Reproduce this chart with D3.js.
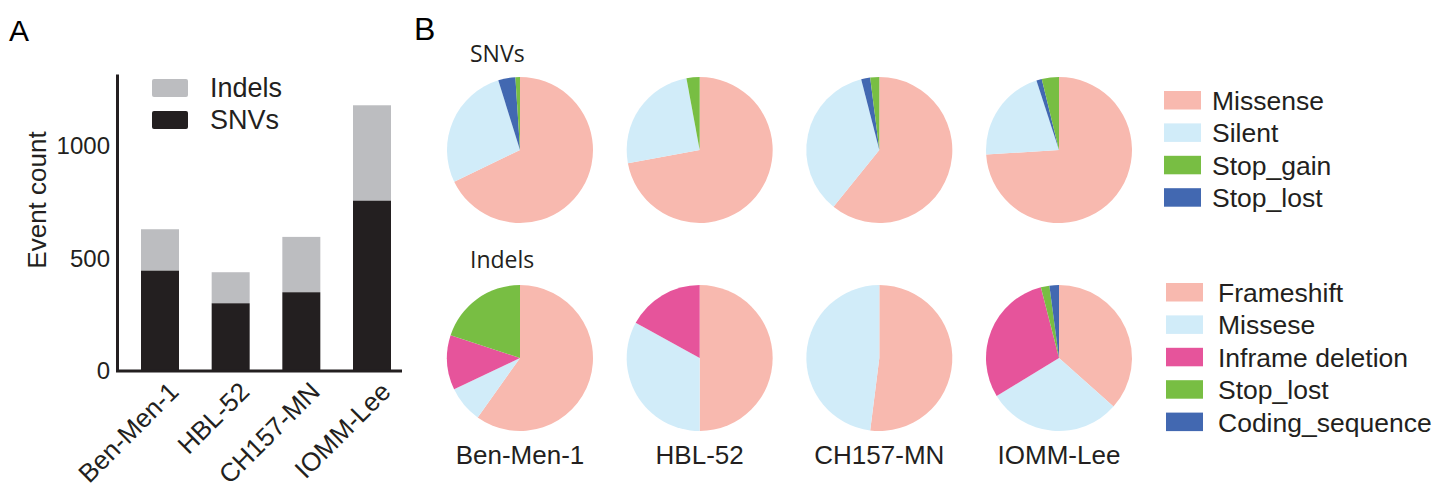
<!DOCTYPE html>
<html>
<head>
<meta charset="utf-8">
<script src="https://cdn.jsdelivr.net/npm/d3@7"></script>
<style>
  body { margin: 0; background: #fff; }
  svg { display: block; font-family: "Liberation Sans", Arial, sans-serif; }
</style>
</head>
<body>
<svg id="fig" width="1453" height="490"></svg>
<script>
// panel A: event counts per cell line
var cellLines = ["Ben-Men-1", "HBL-52", "CH157-MN", "IOMM-Lee"];
var snvCounts = [446, 301, 350, 757];
var indelCounts = [184, 138, 246, 424];
var yTicks = [0, 500, 1000];

// panel B: percentages, drawn clockwise from 12 o'clock
var snvMissense = [67.8, 72.1, 60.8, 74.0];
var snvSilent = [27.3, 25.0, 35.2, 21.0];
var snvStopLost = [3.8, 0, 2.0, 1.2];
var snvStopGain = [1.0, 2.9, 2.0, 3.8];

var indelFrameshift = [59.9, 50.0, 52.0, 36.6];
var indelMissese = [8.1, 33.0, 48.0, 29.7];
var indelInframe = [12.1, 17.0, 0, 29.7];
var indelStopLost = [20.0, 0, 0, 1.9];
var indelCoding = [0, 0, 0, 2.1];

var snvLegend = ["Missense", "Silent", "Stop_gain", "Stop_lost"];
var indelLegend = ["Frameshift", "Missese", "Inframe deletion", "Stop_lost", "Coding_sequence"];

var pink = "#f8b9af", sky = "#d1ecf9", green = "#78be43", blue = "#4268b1", magenta = "#e6549b";
var snvColors = {Missense: pink, Silent: sky, Stop_gain: green, Stop_lost: blue};
var indelColors = {"Frameshift": pink, "Missese": sky, "Inframe deletion": magenta, "Stop_lost": green, "Coding_sequence": blue};

var svg = d3.select("#fig");

// panel letters
svg.append("text").attr("x", 9).attr("y", 41).attr("font-size", 30).text("A");
svg.append("text").attr("x", 414).attr("y", 40).attr("font-size", 32).text("B");

// ---------- panel A ----------
var y = d3.scaleLinear().domain([0, 1320]).range([371, 74]);
var x = d3.scalePoint().domain(cellLines).range([160, 372]);
var barW = 38;

var stacked = cellLines.map(function(c, i) {
    return {name: c, snv: snvCounts[i], indel: indelCounts[i]};
});

var bars = svg.append("g");
bars.selectAll("rect.indel").data(stacked).enter().append("rect")
    .attr("class", "indel")
    .attr("x", function(d) { return x(d.name) - barW / 2; })
    .attr("width", barW)
    .attr("y", function(d) { return y(d.snv + d.indel); })
    .attr("height", function(d) { return y(d.snv) - y(d.snv + d.indel); })
    .attr("fill", "#bcbdc0");
bars.selectAll("rect.snv").data(stacked).enter().append("rect")
    .attr("class", "snv")
    .attr("x", function(d) { return x(d.name) - barW / 2; })
    .attr("width", barW)
    .attr("y", function(d) { return y(d.snv); })
    .attr("height", function(d) { return y(0) - y(d.snv); })
    .attr("fill", "#231f20");

var yAxis = svg.append("g")
    .attr("transform", "translate(117,0)")
    .call(d3.axisLeft(y).tickValues(yTicks).tickSize(0).tickPadding(7).tickFormat(d3.format("d")));
yAxis.select(".domain").attr("stroke", "#231f20").attr("stroke-width", 3);
yAxis.selectAll("text").attr("font-size", 24).attr("font-family", "Liberation Sans, Arial").attr("fill", "#231f20");

// x axis line
svg.append("line")
    .attr("x1", 116).attr("x2", 402)
    .attr("y1", y(0)).attr("y2", y(0))
    .attr("stroke", "#231f20").attr("stroke-width", 3);

svg.append("g").selectAll("text").data(cellLines).enter().append("text")
    .attr("transform", function(d) { return "translate(" + (x(d) + 7) + "," + (y(0) + 9) + ") rotate(-45)"; })
    .attr("text-anchor", "end")
    .attr("dy", "0.72em")
    .attr("font-size", 26)
    .attr("fill", "#231f20")
    .text(function(d) { return d; });

svg.append("text")
    .attr("transform", "translate(46,200) rotate(-90)")
    .attr("text-anchor", "middle")
    .attr("font-size", 26)
    .attr("fill", "#231f20")
    .text("Event count");

// bar legend
var barLegend = [{label: "Indels", color: "#bcbdc0"}, {label: "SNVs", color: "#231f20"}];
var bl = svg.append("g").selectAll("g").data(barLegend).enter().append("g")
    .attr("transform", function(d, i) { return "translate(152," + (79 + i * 32) + ")"; });
bl.append("rect").attr("width", 36).attr("height", 18).attr("rx", 2)
    .attr("fill", function(d) { return d.color; });
bl.append("text").attr("x", 58).attr("y", 9).attr("dy", "0.35em")
    .attr("font-size", 27).attr("fill", "#231f20")
    .text(function(d) { return d.label; });

// ---------- panel B ----------
var col = d3.scalePoint().domain(cellLines).range([520, 1059]);
var rowY = {snv: 150, indel: 358};
var radius = 73;

var pie = d3.pie().sort(null).value(function(d) { return d.value; });
var arc = d3.arc().innerRadius(0).outerRadius(radius);

function drawPies(rows, cy) {
    cellLines.forEach(function(c, i) {
        var slices = rows.map(function(r) { return {value: r.values[i], color: r.color}; });
        svg.append("g")
            .attr("transform", "translate(" + col(c) + "," + cy + ")")
            .selectAll("path").data(pie(slices)).enter().append("path")
            .attr("d", arc)
            .attr("fill", function(d) { return d.data.color; });
    });
}

drawPies([
    {values: snvMissense, color: snvColors.Missense},
    {values: snvSilent, color: snvColors.Silent},
    {values: snvStopLost, color: snvColors.Stop_lost},
    {values: snvStopGain, color: snvColors.Stop_gain}
], rowY.snv);

drawPies([
    {values: indelFrameshift, color: indelColors["Frameshift"]},
    {values: indelMissese, color: indelColors["Missese"]},
    {values: indelInframe, color: indelColors["Inframe deletion"]},
    {values: indelStopLost, color: indelColors["Stop_lost"]},
    {values: indelCoding, color: indelColors["Coding_sequence"]}
], rowY.indel);

// row titles
svg.append("text").attr("x", 470).attr("y", 62).attr("font-size", 23)
    .attr("font-family", "Open Sans").attr("fill", "#231f20").text("SNVs");
svg.append("text").attr("x", 470).attr("y", 268).attr("font-size", 23)
    .attr("font-family", "Open Sans").attr("fill", "#231f20").text("Indels");

// column labels
svg.append("g").selectAll("text").data(cellLines).enter().append("text")
    .attr("x", function(d) { return col(d); })
    .attr("y", 464)
    .attr("text-anchor", "middle")
    .attr("font-size", 26)
    .attr("fill", "#231f20")
    .text(function(d) { return d; });

// legends
function drawLegend(labels, colors, x0, y0, tx) {
    var g = svg.append("g").selectAll("g").data(labels).enter().append("g")
        .attr("transform", function(d, i) { return "translate(" + x0 + "," + (y0 + i * 32.4) + ")"; });
    g.append("rect").attr("width", 37).attr("height", 18.5)
        .attr("fill", function(d) { return colors[d]; });
    g.append("text").attr("x", tx).attr("y", 9.5).attr("dy", "0.36em")
        .attr("font-size", 26.5).attr("fill", "#231f20")
        .text(function(d) { return d; });
}
drawLegend(snvLegend, snvColors, 1164, 91, 48);
drawLegend(indelLegend, indelColors, 1166, 283, 52);
</script>
</body>
</html>
